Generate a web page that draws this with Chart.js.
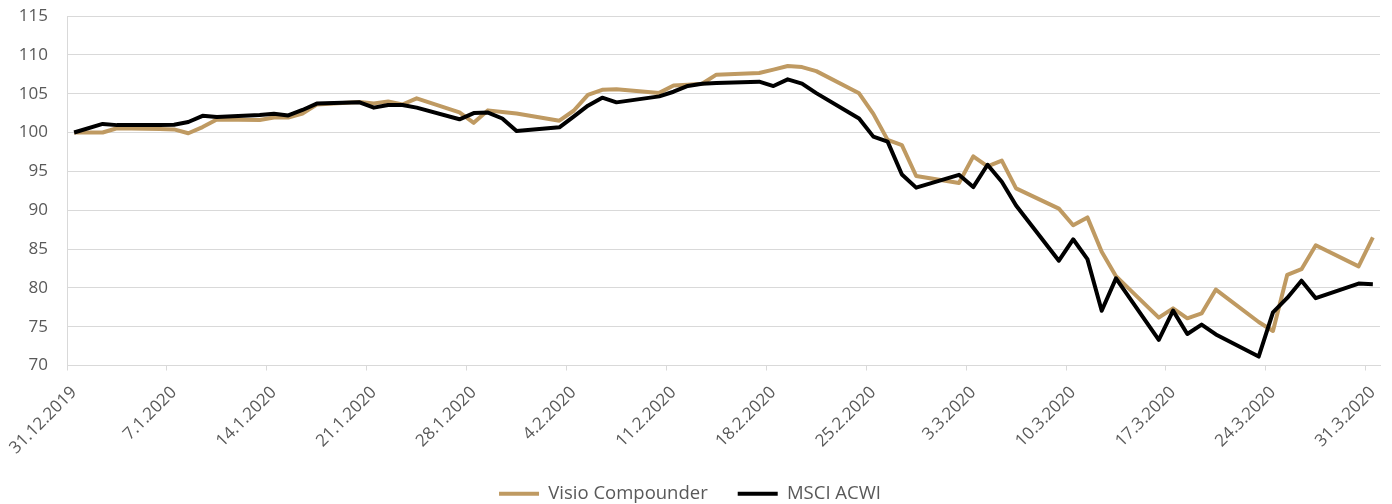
<!DOCTYPE html>
<html>
<head>
<meta charset="utf-8">
<script src="https://cdn.jsdelivr.net/npm/chart.js@4.4.1/dist/chart.umd.min.js"></script>
<style>
    html, body { margin: 0; padding: 0; background: #fff; }
    #wrap { width: 1392px; height: 504px; }
</style>
</head>
<body>
<div id="wrap"><canvas id="chart" width="1392" height="504"></canvas></div>
<script>
const DATES = [
    '31.12.2019', '2.1.2020', '3.1.2020', '6.1.2020', '7.1.2020', '8.1.2020', '9.1.2020', '10.1.2020',
    '13.1.2020', '14.1.2020', '15.1.2020', '16.1.2020', '17.1.2020', '20.1.2020', '21.1.2020', '22.1.2020',
    '23.1.2020', '24.1.2020', '27.1.2020', '28.1.2020', '29.1.2020', '30.1.2020', '31.1.2020', '3.2.2020',
    '4.2.2020', '5.2.2020', '6.2.2020', '7.2.2020', '10.2.2020', '11.2.2020', '12.2.2020', '13.2.2020',
    '14.2.2020', '17.2.2020', '18.2.2020', '19.2.2020', '20.2.2020', '21.2.2020', '24.2.2020', '25.2.2020',
    '26.2.2020', '27.2.2020', '28.2.2020', '2.3.2020', '3.3.2020', '4.3.2020', '5.3.2020', '6.3.2020',
    '9.3.2020', '10.3.2020', '11.3.2020', '12.3.2020', '13.3.2020', '16.3.2020', '17.3.2020', '18.3.2020',
    '19.3.2020', '20.3.2020', '23.3.2020', '24.3.2020', '25.3.2020', '26.3.2020', '27.3.2020', '30.3.2020',
    '31.3.2020'
];

const VISIO = [
    100, 100.0, 100.55, 100.45, 100.4, 99.9, 100.7, 101.67,
    101.6, 101.92, 101.92, 102.44, 103.6, 103.93, 103.75, 104.0,
    103.6, 104.4, 102.6, 101.24, 102.85, 102.65, 102.45, 101.52,
    102.8, 104.85, 105.5, 105.57, 105.1, 106.05, 106.15, 106.28,
    107.45, 107.67, 108.1, 108.57, 108.42, 107.9, 105.05, 102.4,
    99.05, 98.38, 94.4, 93.5, 96.93, 95.65, 96.38, 92.8,
    90.2, 88.05, 89.07, 84.65, 81.5, 76.17, 77.36, 76.07,
    76.7, 79.78, 75.6, 74.45, 81.67, 82.4, 85.48, 82.76,
    86.5
];

const MSCI = [
    100, 101.1, 100.95, 100.95, 101.0, 101.35, 102.15, 102.0,
    102.25, 102.4, 102.2, 102.9, 103.72, 103.88, 103.2, 103.55,
    103.55, 103.2, 101.7, 102.5, 102.56, 101.8, 100.18, 100.67,
    102.05, 103.45, 104.48, 103.88, 104.65, 105.25, 106.0, 106.28,
    106.37, 106.55, 105.98, 106.84, 106.3, 105.07, 101.8, 99.47,
    98.83, 94.6, 92.9, 94.55, 92.97, 95.85, 93.66, 90.6,
    83.5, 86.25, 83.7, 77.05, 81.22, 73.3, 77.06, 74.06,
    75.27, 74.0, 71.15, 76.85, 78.7, 80.92, 78.67, 80.55,
    80.47
];

const TICK_LABELS = [
    '31.12.2019', '7.1.2020', '14.1.2020', '21.1.2020', '28.1.2020', '4.2.2020', '11.2.2020',
    '18.2.2020', '25.2.2020', '3.3.2020', '10.3.2020', '17.3.2020', '24.3.2020', '31.3.2020'
];

const COR_TEXTO = '#595959';
const COR_GRADE = '#d9d9d9';
const FONTE = "'Open Sans', sans-serif";

function diaIndice(s) {
    const p = s.split('.').map(Number);
    const base = Date.UTC(2019, 11, 31);
    return Math.round((Date.UTC(p[2], p[1] - 1, p[0]) - base) / 86400000);
}

const dias = DATES.map(diaIndice);
const diasTicks = TICK_LABELS.map(diaIndice);
const pontos = (valores) => valores.map((v, i) => ({ x: dias[i], y: v }));

new Chart(document.getElementById('chart'), {
    type: 'line',
    data: {
        datasets: [{
            label: 'Visio Compounder',
            data: pontos(VISIO),
            borderColor: '#bf9a62',
            backgroundColor: '#bf9a62',
            borderWidth: 4,
            pointRadius: 0,
            tension: 0,
            borderJoinStyle: 'round',
            order: 1
        }, {
            label: 'MSCI ACWI',
            data: pontos(MSCI),
            borderColor: '#000000',
            backgroundColor: '#000000',
            borderWidth: 4,
            pointRadius: 0,
            tension: 0,
            borderJoinStyle: 'round',
            order: 0
        }]
    },
    options: {
        responsive: false,
        animation: false,
        layout: { padding: { top: 16, right: 12, bottom: -9, left: 0 } },
        scales: {
            x: {
                type: 'linear',
                min: diasTicks[0] - 0.5,
                max: diasTicks[diasTicks.length - 1] + 0.5,
                afterBuildTicks: (s) => { s.ticks = diasTicks.map(d => ({ value: d - 0.5 })); },
                afterFit: (s) => { s.height = 89; s.paddingLeft = 0; s.paddingRight = 0; },
                grid: { drawOnChartArea: false, drawTicks: true, tickLength: 5, color: COR_GRADE },
                border: { display: true, color: COR_GRADE },
                ticks: {
                    autoSkip: false,
                    minRotation: 45,
                    maxRotation: 45,
                    padding: 12,
                    labelOffset: 7,
                    color: COR_TEXTO,
                    font: { family: FONTE, size: 17 },
                    callback: (v, i) => TICK_LABELS[i]
                }
            },
            y: {
                min: 70,
                max: 115,
                afterFit: (s) => { s.width = 67; s.paddingTop = 0; s.paddingBottom = 0; },
                grid: { color: COR_GRADE, drawTicks: false },
                border: { display: true, color: COR_GRADE },
                ticks: {
                    stepSize: 5,
                    padding: 19,
                    color: COR_TEXTO,
                    font: { family: FONTE, size: 17 }
                }
            }
        },
        plugins: {
            tooltip: { enabled: false },
            legend: {
                position: 'bottom',
                labels: {
                    usePointStyle: true,
                    pointStyle: 'line',
                    pointStyleWidth: 40,
                    padding: 30,
                    color: COR_TEXTO,
                    font: { family: FONTE, size: 18.5 },
                    sort: (a, b) => a.datasetIndex - b.datasetIndex
                }
            }
        }
    }
});
</script>
</body>
</html>
